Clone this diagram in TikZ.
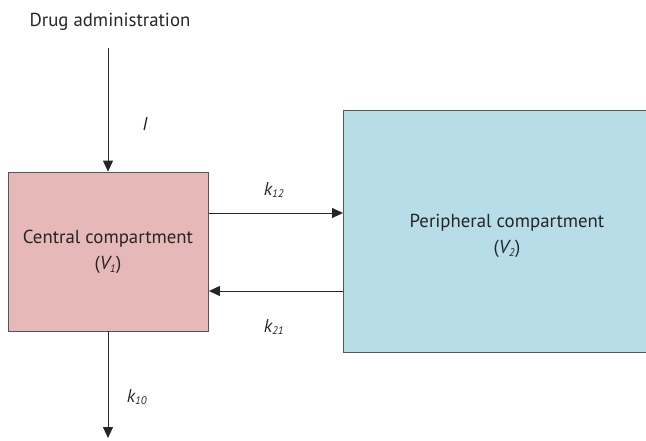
\documentclass[tikz,border=0pt]{standalone}
\usepackage{fontspec}
\setmainfont{PT Sans}
\usetikzlibrary{arrows.meta}
\definecolor{pinkfill}{HTML}{E6B8B7}
\definecolor{bluefill}{HTML}{B7DDE8}
\definecolor{edgegray}{HTML}{555555}
\newcommand{\smallsub}[1]{\textsubscript{\fontsize{11}{11}\selectfont\itshape #1}}
\begin{document}
\begin{tikzpicture}[x=1pt,y=-1pt,
  comp/.style={draw=edgegray, line width=0.8pt, inner sep=0pt},
  txt/.style={font=\fontsize{18.8}{26}\selectfont, text=black!85, align=center, inner sep=0pt},
  lbl/.style={font=\fontsize{18.5}{22}\selectfont\itshape, text=black!85, inner sep=0pt},
  arr/.style={draw=black!85, line width=0.9pt, -{Triangle[length=11pt,width=10pt]}}]
\useasboundingbox (0,0) rectangle (646,440);
\fill[bluefill] (343,110) rectangle (646,352);
\draw[edgegray, line width=0.8pt] (646,110) -- (343,110) -- (343,352) -- (646,352);
\node[comp, fill=pinkfill, minimum width=200pt, minimum height=159pt] (c) at (108.5,251.5) {};
\node[txt] (ct) at (108,252) {Central compartment\\({\itshape V\smallsub{1}})};
\node[txt] (pt) at (507,236) {Peripheral compartment\\({\itshape V\smallsub{2}})};
\coordinate (pleft12) at (343,213);
\coordinate (pleft21) at (343,291);
\node[txt] (drug) at (110,22) {Drug administration};
\coordinate (in) at (108,48);
\coordinate (out) at (108,438);
\draw[arr] (in) -- (c.north -| in);
\draw[arr] (c.south -| out) -- (out);
\draw[arr] (c.east |- pleft12) -- (pleft12);
\draw[arr] (pleft21) -- (c.east |- pleft21);
\node[lbl] (lI) at (145,124) {I};
\node[lbl] (l12) at (274,190) {k\smallsub{12}};
\node[lbl] (l21) at (274,327) {k\smallsub{21}};
\node[lbl] (l10) at (137,397) {k\smallsub{10}};
\end{tikzpicture}
\end{document}
